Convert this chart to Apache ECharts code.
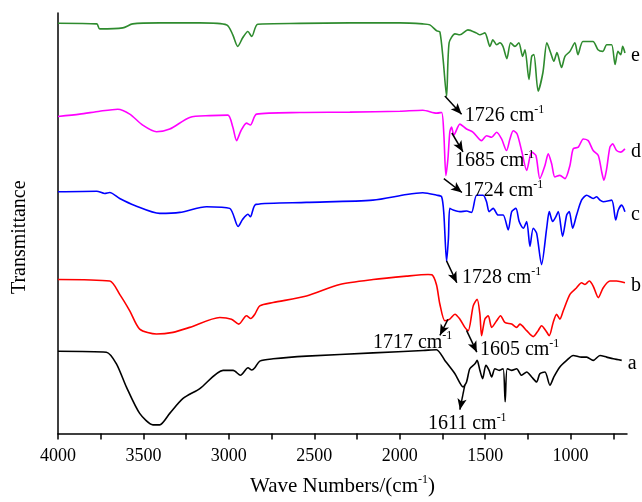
<!DOCTYPE html>
<html>
<head>
<meta charset="utf-8">
<script src="https://cdn.jsdelivr.net/npm/echarts@6/dist/echarts.min.js"></script>
<style>html,body{margin:0;padding:0;background:#fff}#c{width:642px;height:502px}</style>
</head>
<body>
<div id="c"></div>
<script>
// Wavenumber (cm^-1), transmittance (arbitrary units, traces stacked)
var traceA = [[4000,83],[3717,82],[3658,70.3],[3600,47],[3522,20.3],[3444,8.7],[3405,8.7],[3346,20.3],[3268,35.3],[3170,45.3],[3034,63.7],[2975,63.7],[2932,58.7],[2888,66.3],[2866,64],[2848,66.3],[2819,73],[2741,75.3],[2546,78],[2156,81.3],[1863,83.7],[1785,84.5],[1736,73.7],[1677,60.3],[1629,47],[1609,52],[1590,65.3],[1560,70.3],[1547,73.7],[1531,63.7],[1515,55.3],[1496,68.7],[1477,63.7],[1462,57],[1443,65.3],[1418,63.7],[1395,65.3],[1383,32],[1371,65.3],[1345,63.7],[1316,65.3],[1287,58.7],[1257,62],[1228,57],[1199,52],[1180,60.3],[1150,62],[1121,48.7],[1098,57],[1063,67],[1023,73.7],[985,78.7],[936,77],[906,77],[868,73.7],[828,78.7],[789,77],[750,75.3],[701,73.7]];
var traceB = [[4000,155.3],[3697,153.7],[3639,140.3],[3580,123.7],[3522,105.3],[3424,100.3],[3327,102],[3229,107],[3053,117],[2985,115.3],[2942,110.3],[2897,118.7],[2872,116],[2848,120.3],[2819,128.7],[2741,132],[2546,138.7],[2351,150.3],[2156,155.3],[1960,158.7],[1834,160.3],[1812,160],[1785,150],[1765,130.3],[1736,113.7],[1707,115.3],[1677,120.3],[1648,115.3],[1619,107],[1599,103.7],[1570,128.7],[1547,135.3],[1531,120.3],[1521,98.7],[1502,115.3],[1482,118.7],[1462,107],[1433,113.7],[1410,118.7],[1385,112],[1345,110.3],[1316,107],[1297,110.3],[1257,103.7],[1219,97.7],[1190,103.7],[1170,108.7],[1145,103.7],[1125,98.7],[1102,112],[1082,120.3],[1063,115.3],[1043,123.7],[1004,140.3],[965,147],[936,152],[916,150.3],[891,153.7],[868,148.7],[838,137],[809,147],[770,153.7],[731,153.7],[682,152]];
var traceC = [[4000,243.7],[3773,244.3],[3727,242],[3697,243],[3639,237],[3551,230],[3405,222],[3287,223],[3131,228.7],[2995,227],[2946,208.7],[2919,216],[2888,221],[2874,218.7],[2842,231],[2546,233],[2157,235.3],[1960,241],[1865,242.7],[1783,240.3],[1755,238.7],[1742,222],[1726,173.7],[1715,197],[1707,227],[1687,225.3],[1648,223.7],[1609,224.3],[1580,223],[1550,240.3],[1512,240.3],[1492,233.7],[1477,223.7],[1453,227],[1424,220.3],[1395,220.3],[1365,205.3],[1345,223.7],[1320,227],[1301,213.7],[1277,207],[1257,213.7],[1238,188.7],[1219,207],[1199,202],[1170,170.3],[1140,207],[1125,223.7],[1105,213.7],[1086,218.7],[1072,223.7],[1047,198.7],[1023,220.3],[1008,223.7],[988,207],[965,220.3],[936,235.3],[906,240.3],[868,237],[848,238.7],[828,235.3],[809,233.7],[760,235.3],[736,215.3],[721,225.3],[701,230.3],[682,223.7]];
var traceD = [[4000,319.7],[3873,322],[3756,325],[3650,327],[3580,322],[3504,311],[3424,304.3],[3346,307],[3229,318.7],[3112,320.5],[3006,321],[2977,309],[2955,295.3],[2930,305],[2897,313],[2874,311],[2838,322],[2585,323.7],[2292,324],[1999,325],[1865,326],[1783,323],[1755,323.7],[1742,302],[1730,260],[1718,277],[1707,304],[1697,309],[1683,301],[1648,312],[1609,307],[1572,304],[1521,295.3],[1492,300.3],[1462,298.7],[1433,303.7],[1404,297],[1375,285.3],[1355,297],[1336,305.3],[1313,302],[1287,285.3],[1257,265.3],[1228,283.7],[1203,280.3],[1180,257],[1150,270.3],[1131,282],[1111,272],[1092,258.7],[1063,260.3],[1033,257],[1004,270.3],[985,287],[955,288.7],[926,297],[897,295.3],[868,285.3],[838,280.3],[818,263.7],[805,255.3],[789,267],[770,288.7],[754,292],[731,285.3],[707,283.7],[682,287]];
var traceE = [[4000,413.7],[3773,413],[3756,408],[3621,409],[3563,413],[3405,414],[3170,414],[3012,412],[2977,402],[2948,390.3],[2919,399],[2889,405.3],[2866,400.3],[2831,412.7],[2585,413.5],[2292,414],[1999,414],[1865,413],[1824,412],[1783,406],[1765,405],[1746,377],[1726,340],[1711,394],[1677,403],[1648,402],[1601,407],[1550,403.7],[1531,402],[1502,404],[1472,390.3],[1455,397],[1433,392],[1414,394],[1396,390.3],[1373,378],[1351,394],[1326,390.3],[1303,394],[1281,380.3],[1267,387],[1244,357],[1228,380.3],[1215,382],[1190,345.3],[1162,364],[1139,394],[1117,384],[1098,375.3],[1080,384],[1053,369],[1033,380.3],[1004,385.3],[975,394],[957,382],[928,395.3],[869,395.3],[840,387],[811,385.3],[789,392],[760,392],[740,372],[723,385.3],[707,382],[695,390.3],[682,383.7]];
var seriesNames = ['a','b','c','d','e'];
var xLabelValues = [1000,1500,2000,2500,3000,3500,4000];
var xTickValues = [750,1000,1250,1500,1750,2000,2250,2500,2750,3000,3250,3500,3750,4000];
// Peak annotations: arrow start/end and label anchor, in data coordinates
var peakLabels = ['1726','1685','1724','1728','1717','1605','1611'];
var arrowFrom = [[1736,340.3],[1695,303],[1742,257],[1726,174],[1718,115],[1609,104],[1619,49]];
var arrowTo   = [[1638,322],[1630,284],[1636,243],[1666,152],[1765,99],[1549,82],[1648,24]];
var labelAt   = [[1619,320],[1677,275],[1625,245],[1636,157],[2157,92],[1531,84],[1835,10]];

var SERIF = '"Liberation Serif", "Times New Roman", serif';
var colors = ['#000000','#ff0000','#0000ff','#ff00ff','#2e8b2e'];
var traces = [traceA, traceB, traceC, traceD, traceE];

var rich = {
  t: {fontFamily: SERIF, fontSize: 20, color: '#000', lineHeight: 24},
  s: {fontFamily: SERIF, fontSize: 12, color: '#000', lineHeight: 12, verticalAlign: 'top'}
};

var series = traces.map(function (d, i) {
  var last = d[d.length - 1];
  return {
    name: seriesNames[i], type: 'line', data: d, showSymbol: false, symbol: 'none',
    smooth: 0.25, lineStyle: {color: colors[i], width: 1.6}, itemStyle: {color: colors[i]},
    silent: true, animation: false,
    markPoint: {
      silent: true, animation: false, symbol: 'circle', symbolSize: 0,
      data: [{coord: last, label: {show: true, position: 'right', distance: 6, offset: [0, 3],
        formatter: seriesNames[i], color: '#000', fontFamily: SERIF, fontSize: 20}}]
    }
  };
});

series.push({
  type: 'line', data: [], silent: true, animation: false,
  markLine: {
    silent: true, animation: false, symbol: ['none', 'arrow'], symbolSize: [7, 11],
    lineStyle: {color: '#000', width: 1.5, type: 'solid'}, label: {show: false},
    data: arrowFrom.map(function (f, i) { return [{coord: f}, {coord: arrowTo[i]}]; })
  },
  markPoint: {
    silent: true, animation: false, symbol: 'circle', symbolSize: 0,
    data: labelAt.map(function (c, i) {
      return {coord: c, label: {show: true, position: 'right', distance: 0,
        formatter: '{t|' + peakLabels[i] + ' cm}{s|-1}', rich: rich}};
    })
  }
});

var chart = echarts.init(document.getElementById('c'), null, {renderer: 'canvas'});
chart.setOption({
  backgroundColor: '#fff',
  animation: false,
  grid: {left: 58, right: 15, top: 13, bottom: 65},
  xAxis: {
    type: 'value', inverse: true, min: 670, max: 4000,
    name: '{t|Wave Numbers/(cm}{s|-1}{t|)}', nameLocation: 'middle', nameGap: 40,
    nameTextStyle: {rich: {
      t: {fontFamily: SERIF, fontSize: 21, color: '#000', lineHeight: 26},
      s: {fontFamily: SERIF, fontSize: 12, color: '#000', lineHeight: 12, verticalAlign: 'top'}
    }},
    axisLine: {show: true, lineStyle: {color: '#000', width: 1.5}},
    axisTick: {show: true, inside: false, length: 6, customValues: xTickValues, lineStyle: {color: '#000', width: 1.5}},
    axisLabel: {show: true, customValues: xLabelValues, margin: 14, color: '#000', fontFamily: SERIF, fontSize: 18,
      formatter: function (v) { return String(v); }},
    splitLine: {show: false}
  },
  yAxis: {
    type: 'value', min: 0, max: 424,
    name: 'Transmittance', nameLocation: 'middle', nameGap: 28,
    nameTextStyle: {fontFamily: SERIF, fontSize: 20, color: '#000', padding: [0, 28, 0, 0]},
    axisLine: {show: true, lineStyle: {color: '#000', width: 1.5}},
    axisTick: {show: false}, axisLabel: {show: false}, splitLine: {show: false}
  },
  series: series
});
</script>
</body>
</html>
